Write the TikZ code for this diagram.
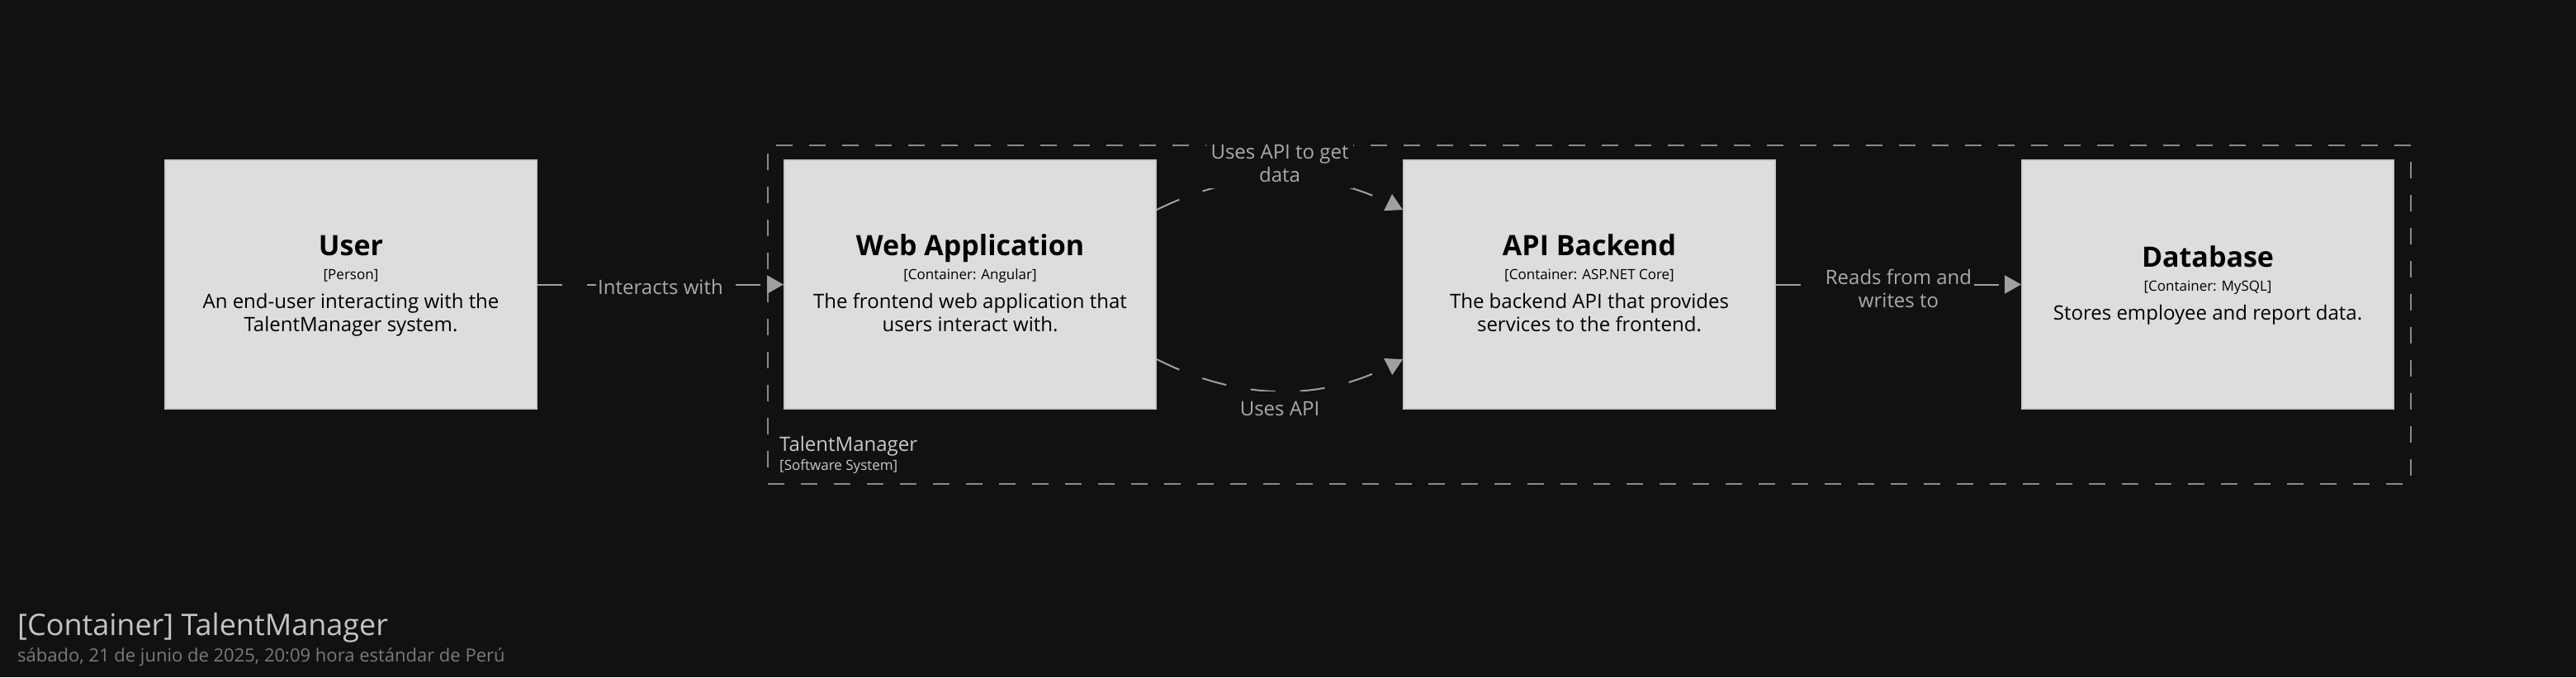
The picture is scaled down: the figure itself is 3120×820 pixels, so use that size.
\documentclass[tikz,border=0pt]{standalone}
\usepackage{fontspec}
\setmainfont{Open Sans}
\usetikzlibrary{arrows.meta,calc}
\definecolor{bgc}{HTML}{111111}
\definecolor{boxfill}{HTML}{DDDDDD}
\definecolor{boxline}{HTML}{C8C8C8}
\definecolor{edgec}{HTML}{A0A0A0}
\definecolor{labc}{HTML}{AAAAAA}
\definecolor{bndc}{HTML}{8A8A8A}
\definecolor{bndtext}{HTML}{C8C8C8}
\definecolor{titc}{HTML}{C4C4C4}
\definecolor{datec}{HTML}{7A7A7A}
\tikzset{
  elem/.style={draw=boxline, line width=2pt, fill=boxfill, minimum width=450pt, minimum height=301pt, inner sep=0pt, anchor=north west},
  ttl/.style={font=\fontsize{34}{40}\selectfont\bfseries, text=black, inner sep=0pt, anchor=base},
  meta/.style={font=\fontsize{17}{20}\selectfont, text=black, inner sep=0pt, anchor=base},
  desc/.style={font=\fontsize{24}{28}\selectfont, text=black, inner sep=0pt, anchor=base},
  conn/.style={draw=edgec, line width=2pt, dash pattern=on 30pt off 30pt, -{Triangle[length=20pt,width=22pt]}},
  elab/.style={font=\fontsize{24}{28}\selectfont, text=labc, fill=bgc, inner xsep=2pt, inner ysep=3pt, align=center},
  bnd/.style={draw=bndc, line width=2pt, dash pattern=on 20pt off 20pt, minimum width=1990pt, minimum height=410pt, inner sep=0pt, anchor=north west},
  bndname/.style={font=\fontsize{24}{28}\selectfont, text=bndtext, inner sep=0pt, anchor=base west},
  bndmeta/.style={font=\fontsize{17}{20}\selectfont, text=bndtext, inner sep=0pt, anchor=base west},
}
\begin{document}
\begin{tikzpicture}[x=1pt, y=-1pt]
\fill[bgc] (0,0) rectangle (3120,820);
\useasboundingbox (0,0) rectangle (3120,820);

% boundary
\node[bnd] (tm) at (929,175) {};
\node[bndname] (tmname) at (944,546) {TalentManager};
\node[bndmeta] (tmmeta) at (944,569) {[Software System]};

% elements
\node[elem] (user) at (199,193) {};
\node[elem] (web) at (949,193) {};
\node[elem] (api) at (1699,193) {};
\node[elem] (db) at (2448,193) {};

\node[ttl] (usert) at ([yshift=35pt]user.center) {User};
\node[meta] (userm) at ([yshift=6.5pt]user.center) {[Person]};
\node[desc] (userd1) at ([yshift=-28.5pt]user.center) {An end-user interacting with the};
\node[desc] (userd2) at ([yshift=-56.5pt]user.center) {TalentManager system.};

\node[ttl] (webt) at ([yshift=35pt]web.center) {Web Application};
\node[meta] (webm) at ([yshift=6.5pt]web.center) {[Container: Angular]};
\node[desc] (webd1) at ([yshift=-28.5pt]web.center) {The frontend web application that};
\node[desc] (webd2) at ([yshift=-56.5pt]web.center) {users interact with.};

\node[ttl] (apit) at ([yshift=35pt]api.center) {API Backend};
\node[meta] (apim) at ([yshift=6.5pt]api.center) {[Container: ASP.NET Core]};
\node[desc] (apid1) at ([yshift=-28.5pt]api.center) {The backend API that provides};
\node[desc] (apid2) at ([yshift=-56.5pt]api.center) {services to the frontend.};

\node[ttl] (dbt) at ([yshift=21pt]db.center) {Database};
\node[meta] (dbm) at ([yshift=-7.5pt]db.center) {[Container: MySQL]};
\node[desc] (dbd1) at ([yshift=-42.5pt]db.center) {Stores employee and report data.};

% connectors
\draw[conn] (user.east) -- node[elab, yshift=-3pt] (l1) {Interacts with} (web.west);

\coordinate (w1) at ([yshift=-61pt]web.north east);
\coordinate (a1) at ([yshift=-61pt]api.north west);
\draw[conn] (w1) .. controls ($(w1)+(100,-49.3)$) and ($(a1)+(-100,-49.3)$) .. node[elab, pos=0.5, yshift=19pt, inner xsep=6pt, inner ysep=7pt] (l2) {Uses API to get\\data} (a1);

\coordinate (w2) at ([yshift=61pt]web.south east);
\coordinate (a2) at ([yshift=61pt]api.south west);
\draw[conn] (w2) .. controls ($(w2)+(100,50.7)$) and ($(a2)+(-100,50.7)$) .. node[elab, pos=0.5, yshift=-22pt, inner xsep=8pt, inner ysep=12pt] (l3) {Uses API} (a2);

\draw[conn] (api.east) -- node[elab, yshift=-5pt] (l4) {Reads from and\\writes to} (db.west);

% title
\node[font=\fontsize{36}{42}\selectfont, text=titc, inner sep=0pt, anchor=base west] (title) at (21,769) {[Container] TalentManager};
\node[font=\fontsize{22}{26}\selectfont, text=datec, inner sep=0pt, anchor=base west] (date) at (21,801) {sábado, 21 de junio de 2025, 20:09 hora estándar de Perú};
\end{tikzpicture}
\end{document}
